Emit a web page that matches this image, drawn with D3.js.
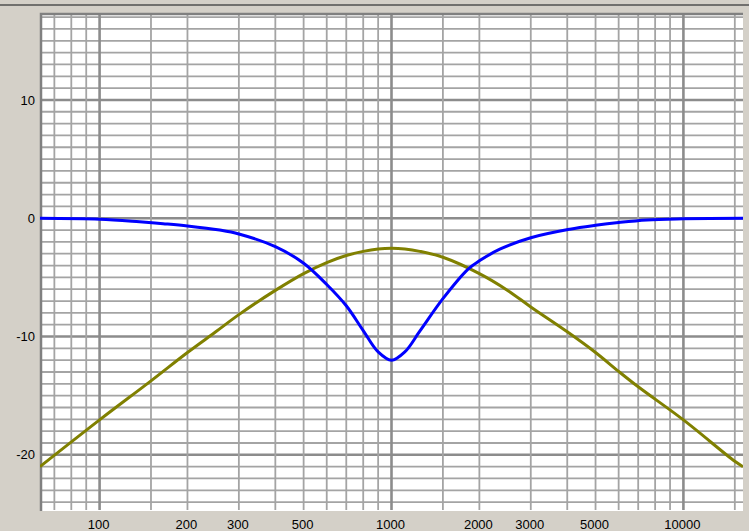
<!DOCTYPE html>
<html>
<head>
<meta charset="utf-8">
<script src="https://cdn.jsdelivr.net/npm/d3@7"></script>
<style>
  html, body { margin: 0; padding: 0; background: #d4d0c8; }
  svg { display: block; }
  text { font-family: "Liberation Sans", Arial, sans-serif; font-size: 13px; fill: #000; }
</style>
</head>
<body>
<svg id="chart" width="749" height="531"></svg>
<script>
/* Filter response: notch (blue) and band-pass (olive), log frequency axis */

// frequency grid lines, labelled ticks and decade lines
var gridFreqs = [70, 80, 90, 100, 150, 200, 300, 400, 500, 600, 700, 800, 900,
                 1000, 1500, 2000, 3000, 4000, 5000, 6000, 7000, 8000, 9000, 10000, 15000];
var majorFreqs = [100, 1000, 10000];
var labelFreqs = [100, 200, 300, 500, 1000, 2000, 3000, 5000, 10000];
var yLabels = [10, 0, -10, -20];

// notch curve (dB)
var notchFreq = [62.5, 100, 137, 165, 200, 258, 300, 400, 500, 600, 700, 800, 900, 1000,
                 1111, 1250, 1500, 1830, 2000, 2350, 3000, 4084, 5000, 6000, 7500, 10000, 16000];
var notchDb = [0, -0.08, -0.3, -0.46, -0.65, -1.0, -1.33, -2.4, -3.8, -5.6, -7.4, -9.5, -11.3, -12.0,
               -11.3, -9.55, -6.8, -4.3, -3.6, -2.62, -1.65, -0.93, -0.6, -0.36, -0.14, -0.05, 0];

// band-pass curve (dB)
var bandFreq = [62.5, 100, 150, 200, 250, 300, 400, 500, 600, 700, 800, 900, 1000,
                1111, 1250, 1500, 2000, 2500, 3000, 4000, 5000, 6000, 7000, 10000, 15000, 16000];
var bandDb = [-21.0, -17.05, -13.75, -11.35, -9.6, -8.15, -6.1, -4.68, -3.75, -3.15, -2.8, -2.6, -2.54,
              -2.6, -2.8, -3.3, -4.68, -6.1, -7.5, -9.6, -11.35, -12.95, -14.25, -17.05, -20.55, -21.0];

(function () {
  'use strict';
  var svg = d3.select('#chart');
  var W = 749;
  var plot = { left: 40, top: 13, right: 743, bottom: 511 };

  var x = d3.scaleLog().domain([62.5, 16000]).range([plot.left, plot.right]);
  var y = d3.scaleLinear().domain([-24.75, 17.35]).range([plot.bottom, plot.top]);

  /* window separator line at the top */
  svg.append('line')
    .attr('x1', 0).attr('x2', W).attr('y1', 5).attr('y2', 5)
    .attr('stroke', '#505050').attr('stroke-width', 1.5);

  /* white plot area */
  svg.append('rect')
    .attr('x', plot.left).attr('y', plot.top)
    .attr('width', plot.right - plot.left).attr('height', plot.bottom - plot.top)
    .attr('fill', '#ffffff');

  svg.append('clipPath').attr('id', 'clip').append('rect')
    .attr('x', plot.left).attr('y', plot.top)
    .attr('width', plot.right - plot.left).attr('height', plot.bottom - plot.top);

  var grid = svg.append('g').attr('clip-path', 'url(#clip)');

  /* horizontal grid every 1 dB, heavier every 10 */
  var yGrid = d3.range(Math.ceil(y.domain()[0]), Math.floor(y.domain()[1]) + 1);
  grid.selectAll('line.hg').data(yGrid).enter().append('line')
    .attr('class', 'hg')
    .attr('x1', plot.left).attr('x2', plot.right)
    .attr('y1', function (d) { return y(d); }).attr('y2', function (d) { return y(d); })
    .attr('stroke', function (d) { return d % 10 === 0 ? '#8c8c8c' : '#a4a4a4'; })
    .attr('stroke-width', function (d) { return d % 10 === 0 ? 2.6 : 1.8; });

  /* vertical grid */
  grid.selectAll('line.vg').data(gridFreqs).enter().append('line')
    .attr('class', 'vg')
    .attr('x1', function (d) { return x(d); }).attr('x2', function (d) { return x(d); })
    .attr('y1', plot.top).attr('y2', plot.bottom - 1)
    .attr('stroke', function (d) { return majorFreqs.indexOf(d) >= 0 ? '#8c8c8c' : '#a4a4a4'; })
    .attr('stroke-width', function (d) { return majorFreqs.indexOf(d) >= 0 ? 2.6 : 1.8; });

  /* sunken border: dark left/top */
  svg.append('path')
    .attr('d', 'M' + (plot.left + 1) + ',' + plot.bottom + 'V' + (plot.top + 1) + 'H' + plot.right)
    .attr('fill', 'none').attr('stroke', '#808080').attr('stroke-width', 2.5);

  /* curves */
  var line = d3.line()
    .x(function (d) { return x(d[0]); })
    .y(function (d) { return y(d[1]); })
    .curve(d3.curveCatmullRom.alpha(0.5));

  var curves = svg.append('g').attr('clip-path', 'url(#clip)');
  curves.append('path')
    .datum(d3.zip(bandFreq, bandDb))
    .attr('d', line)
    .attr('fill', 'none').attr('stroke', '#808000').attr('stroke-width', 3);
  curves.append('path')
    .datum(d3.zip(notchFreq, notchDb))
    .attr('d', line)
    .attr('fill', 'none').attr('stroke', '#0000ff').attr('stroke-width', 3);

  /* y labels */
  svg.selectAll('text.yl').data(yLabels).enter().append('text')
    .attr('class', 'yl')
    .attr('x', 35).attr('y', function (d) { return y(d); })
    .attr('dy', '0.36em')
    .attr('text-anchor', 'end')
    .text(function (d) { return d; });

  /* x labels */
  svg.selectAll('text.xl').data(labelFreqs).enter().append('text')
    .attr('class', 'xl')
    .attr('x', function (d) { return x(d) - 1; }).attr('y', 529)
    .attr('text-anchor', 'middle')
    .text(function (d) { return d; });
})();
</script>
</body>
</html>
